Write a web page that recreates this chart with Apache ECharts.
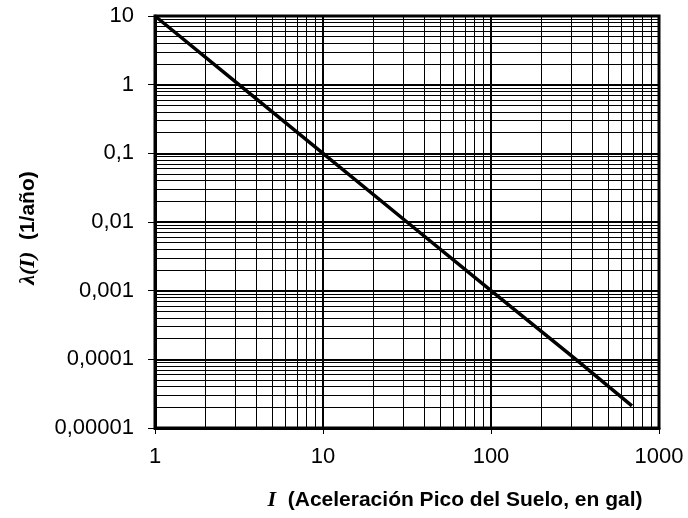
<!DOCTYPE html>
<html><head><meta charset="utf-8">
<script src="https://cdn.jsdelivr.net/npm/echarts@6/dist/echarts.min.js"></script>
<style>html,body{margin:0;padding:0;background:#fff}#c{width:688px;height:518px}</style>
</head><body><div id="c"></div>
<script>
var xValues = [1, 3.16, 10, 31.6, 100, 320, 690];
var yValues = [10, 1, 0.1, 0.01, 0.001, 0.0001, 0.000021];
var xTickLabels = ['1', '10', '100', '1000'];
var yTickLabels = ['0,00001', '0,0001', '0,001', '0,01', '0,1', '1', '10'];

var chart = echarts.init(document.getElementById('c'));
var font = '"Liberation Sans", Arial, sans-serif';
var serif = '"Liberation Serif", "DejaVu Serif", serif';
chart.setOption({
  animation: false,
  backgroundColor: '#fff',
  grid: {left: 155, right: 29, top: 16, bottom: 90, show: true, borderColor: '#000', borderWidth: 3},
  xAxis: {
    type: 'log', logBase: 10, min: 1, max: 1000,
    name: '{i|I}  (Aceleración Pico del Suelo, en gal)',
    nameLocation: 'middle', nameGap: 61,
    nameTextStyle: {fontFamily: font, fontSize: 21, fontWeight: 'bold', color: '#000',
      padding: [0, 0, 0, 96],
      rich: {i: {fontFamily: serif, fontStyle: 'italic', fontWeight: 'bold', fontSize: 22, color: '#000'}}},
    axisLine: {show: true, lineStyle: {color: '#000', width: 3}},
    axisTick: {show: true, length: 6, lineStyle: {color: '#000', width: 1}},
    axisLabel: {fontFamily: font, fontSize: 22, color: '#000', margin: 18,
      formatter: function (v) { return xTickLabels[Math.round(Math.log10(v))]; }},
    splitLine: {show: true, lineStyle: {color: '#000', width: 2}},
    minorTick: {show: false, splitNumber: 9},
    minorSplitLine: {show: true, lineStyle: {color: '#000', width: 1}}
  },
  yAxis: {
    type: 'log', logBase: 10, min: 0.00001, max: 10,
    name: '{i|λ(I)}  (1/año)',
    nameLocation: 'middle', nameGap: 116, nameRotate: 90,
    nameTextStyle: {fontFamily: font, fontSize: 21, fontWeight: 'bold', color: '#000',
      padding: [0, 12, 0, 0],
      rich: {i: {fontFamily: serif, fontStyle: 'italic', fontWeight: 'bold', fontSize: 22, color: '#000'}}},
    axisLine: {show: true, lineStyle: {color: '#000', width: 3}},
    axisTick: {show: true, length: 7, lineStyle: {color: '#000', width: 1}},
    axisLabel: {fontFamily: font, fontSize: 22, color: '#000', margin: 21,
      formatter: function (v) { return yTickLabels[Math.round(Math.log10(v)) + 5]; }},
    splitLine: {show: true, lineStyle: {color: '#000', width: 2}},
    minorTick: {show: false, splitNumber: 9},
    minorSplitLine: {show: true, lineStyle: {color: '#000', width: 1}}
  },
  series: [{
    type: 'line', symbol: 'none',
    data: xValues.map(function (x, i) { return [x, yValues[i]]; }),
    lineStyle: {color: '#000', width: 3.5}
  }]
});
</script></body></html>
